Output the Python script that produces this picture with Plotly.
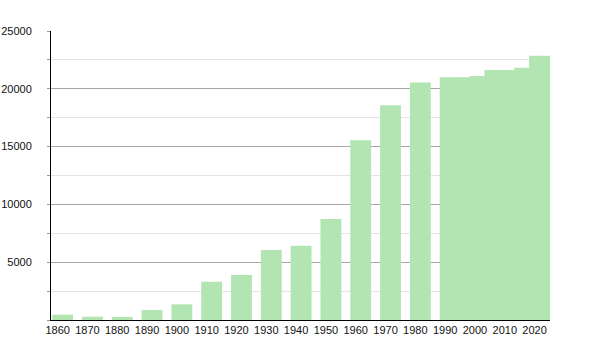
import plotly.graph_objects as go

years = [1860, 1870, 1880, 1890, 1900, 1910, 1920, 1930, 1940, 1950, 1960, 1970, 1980,
         1990, 1995, 2000, 2005, 2010, 2015, 2020]
population = [460, 285, 260, 864, 1357, 3310, 3889, 6050, 6422, 8730, 15557, 18582, 20544,
              20995, 21000, 21107, 21626, 21626, 21828, 22863]
x_ticks = [1860, 1870, 1880, 1890, 1900, 1910, 1920, 1930, 1940, 1950, 1960, 1970, 1980,
           1990, 2000, 2010, 2020]
y_ticks = [5000, 10000, 15000, 20000, 25000]

bar_color = "rgb(178,229,178)"

fig = go.Figure()
fig.add_trace(go.Bar(
    x=years, y=population, width=7,
    marker=dict(color=bar_color, line=dict(width=0)),
    hoverinfo="x+y",
))

fig.update_layout(
    width=600, height=350,
    margin=dict(l=51, r=50, t=31, b=30),
    paper_bgcolor="white", plot_bgcolor="white",
    barmode="overlay",
    showlegend=False,
    font=dict(family="Liberation Sans, Arial, sans-serif", size=11, color="#111"),
    xaxis=dict(
        range=[1856.1, 2023.5],
        tickvals=x_ticks,
        tickformat="d",
        ticks="", showgrid=False,
        showline=True, linecolor="black", linewidth=1,
        ticklabelshift=-5,
        zeroline=False,
        automargin=False,
    ),
    yaxis=dict(
        range=[0, 25000],
        tickvals=y_ticks,
        tickformat="d",
        ticks="outside", ticklen=3, tickcolor="#999",
        ticklabelstandoff=13,
        showgrid=True, gridcolor="#a6a6a6", gridwidth=1,
        showline=True, linecolor="black", linewidth=1,
        zeroline=False,
        automargin=False,
        minor=dict(dtick=2500, showgrid=True, gridcolor="#e4e4e4",
                   ticks="outside", ticklen=3, tickcolor="#999"),
    ),
)

fig.write_html("out.html")
